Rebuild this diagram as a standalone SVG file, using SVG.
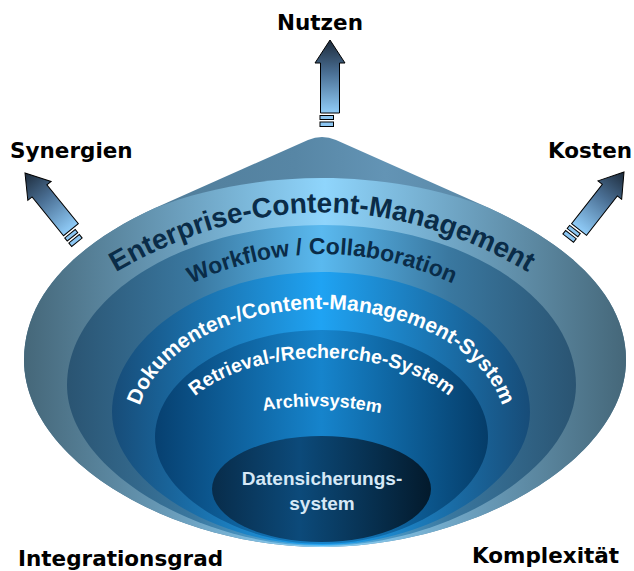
<svg xmlns="http://www.w3.org/2000/svg" width="634" height="571" viewBox="0 0 634 571">
<style>
.lbl{font-family:"DejaVu Sans",sans-serif;font-weight:bold;font-size:21.5px;fill:#000}
.ring{font-family:"Liberation Sans",Arial,sans-serif;font-weight:bold}
.dark{fill:#0a2c48}
.light{fill:#ffffff}
.arrow{fill:url(#gArrow);stroke:#000;stroke-width:1}
.stripe{fill:#8cc6f2;stroke:#000;stroke-width:1}
</style>
<defs>
<linearGradient id="gCone" x1="0" y1="0" x2="1" y2="0">
<stop offset="0" stop-color="#4a7590"/><stop offset="0.45" stop-color="#5786a5"/><stop offset="0.6" stop-color="#6394b5"/><stop offset="1" stop-color="#4a7590"/>
</linearGradient>
<linearGradient id="gEnt" x1="0" y1="0" x2="1" y2="0">
<stop offset="0" stop-color="#456779"/><stop offset="0.25" stop-color="#6a9dbb"/><stop offset="0.5" stop-color="#8fd5fc"/><stop offset="0.75" stop-color="#6a9dbb"/><stop offset="1" stop-color="#456779"/>
</linearGradient>
<linearGradient id="gWork" x1="0" y1="0" x2="1" y2="0">
<stop offset="0" stop-color="#2a5472"/><stop offset="0.25" stop-color="#3a78a0"/><stop offset="0.5" stop-color="#5ab9ef"/><stop offset="0.75" stop-color="#3a78a0"/><stop offset="1" stop-color="#2a5472"/>
</linearGradient>
<linearGradient id="gDok" x1="0" y1="0" x2="1" y2="0">
<stop offset="0" stop-color="#174c78"/><stop offset="0.5" stop-color="#1fa3f3"/><stop offset="1" stop-color="#174c78"/>
</linearGradient>
<linearGradient id="gRet" x1="0" y1="0" x2="1" y2="0">
<stop offset="0" stop-color="#074070"/><stop offset="0.5" stop-color="#1684cc"/><stop offset="1" stop-color="#053c68"/>
</linearGradient>
<linearGradient id="gDat" x1="0" y1="0" x2="1" y2="0">
<stop offset="0" stop-color="#082c4a"/><stop offset="0.4" stop-color="#0c4a7a"/><stop offset="1" stop-color="#031a2c"/>
</linearGradient>
<linearGradient id="gArrow" gradientUnits="userSpaceOnUse" x1="0" y1="0" x2="0" y2="73">
<stop offset="0" stop-color="#1d2b3b"/><stop offset="0.45" stop-color="#4a6f94"/><stop offset="1" stop-color="#90ccf8"/>
</linearGradient>
<path id="arrowShape" d="M0,0 L15,23 L9.5,23 L9.5,73 L-9.5,73 L-9.5,23 L-15,23 Z"/>
<path id="tpEnt" d="M95,285 Q322,140 549,285"/>
<path id="tpWork" d="M150,305 Q322,203 494,305"/>
<path id="tpDok" d="M136,430 A185,121 0 0 1 506,430"/>
<path id="tpRet" d="M172,440 A150,82 0 0 1 472,440"/>
<path id="tpArc" d="M252,413 Q322,398 392,416"/>
</defs>

<g id="node-cone">
<path fill="url(#gCone)" d="M24,360 C24,290 85,240 155,208 L308,140 Q322,134 336,140 L489,208 C559,240 626,290 626,360 C626,460 472,547 322,547 C172,547 24,460 24,360 Z"/>
</g>
<g id="node-ecm">
<path fill="url(#gEnt)" d="M24,360 C24,290 85,240 155,208 C205,188 265,178 322,178 C379,178 439,188 489,208 C559,240 626,290 626,360 C626,460 472,547 322,547 C172,547 24,460 24,360 Z"/>
<text class="ring dark" font-size="28"><textPath href="#tpEnt" startOffset="50%" text-anchor="middle">Enterprise-Content-Management</textPath></text>
</g>
<g id="node-workflow">
<path fill="url(#gWork)" d="M322,225 C466,225 576,300 576,385 C576,470 445,546 322,546 C199,546 67,470 67,385 C67,300 178,225 322,225 Z"/>
<text class="ring dark" font-size="23"><textPath href="#tpWork" startOffset="50%" text-anchor="middle">Workflow / Collaboration</textPath></text>
</g>
<g id="node-dms">
<path fill="url(#gDok)" d="M322,272 C441,272 530,340 530,412 C530,484 425,545 322,545 C219,545 112,484 112,412 C112,340 203,272 322,272 Z"/>
<text class="ring light" font-size="21"><textPath href="#tpDok" startOffset="50%" text-anchor="middle">Dokumenten-/Content-Management-System</textPath></text>
</g>
<g id="node-retrieval">
<path fill="url(#gRet)" d="M322,330 C414,330 488,380 488,437 C488,494 405,544 322,544 C239,544 155,494 155,437 C155,380 230,330 322,330 Z"/>
<text class="ring light" font-size="19.5"><textPath href="#tpRet" startOffset="50%" text-anchor="middle">Retrieval-/Recherche-System</textPath></text>
</g>
<g id="node-archiv">
<text class="ring light" font-size="18"><textPath href="#tpArc" startOffset="50%" text-anchor="middle">Archivsystem</textPath></text>
</g>
<g id="node-datensicherung">
<ellipse cx="321.5" cy="489" rx="109.5" ry="53" fill="url(#gDat)"/>
<text class="ring" font-size="19" fill="#d6e8f6" text-anchor="middle" x="322" y="485">Datensicherungs-</text>
<text class="ring" font-size="19" fill="#d6e8f6" text-anchor="middle" x="322" y="510">system</text>
</g>

<g id="connectors">
<g transform="translate(330,40)">
<use href="#arrowShape" class="arrow"/>
<rect class="stripe" x="-10" y="75.5" width="13.5" height="4"/>
<rect class="stripe" x="-10" y="82" width="13.5" height="4.5"/>
</g>
<g transform="translate(25,173) rotate(-39)">
<use href="#arrowShape" class="arrow"/>
<rect class="stripe" x="-10" y="75.5" width="13.5" height="4"/>
<rect class="stripe" x="-10" y="82" width="13.5" height="4.5"/>
</g>
<g transform="translate(624,172) rotate(38)">
<use href="#arrowShape" class="arrow"/>
<rect class="stripe" x="-10" y="75.5" width="13.5" height="4"/>
<rect class="stripe" x="-10" y="82" width="13.5" height="4.5"/>
</g>
</g>

<g id="node-nutzen"><text class="lbl" x="320" y="29.5" text-anchor="middle">Nutzen</text></g>
<g id="node-synergien"><text class="lbl" x="10" y="158">Synergien</text></g>
<g id="node-kosten"><text class="lbl" x="548" y="158">Kosten</text></g>
<g id="node-integrationsgrad"><text class="lbl" x="18" y="566">Integrationsgrad</text></g>
<g id="node-komplexitaet"><text class="lbl" x="472" y="563">Komplexität</text></g>
</svg>
